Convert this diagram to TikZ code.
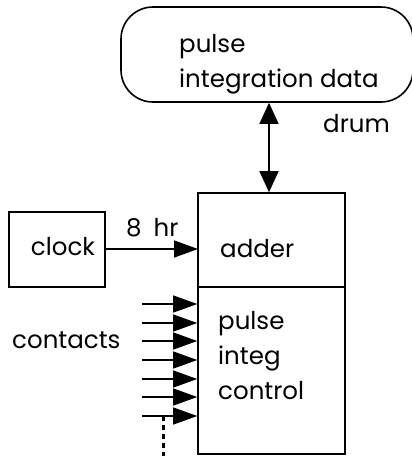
\documentclass[tikz,border=0pt]{standalone}
\usepackage{fontspec}
\setmainfont{Poppins}
\usetikzlibrary{arrows.meta,positioning}

\begin{document}
\begin{tikzpicture}[
  x=1pt, y=-1pt,
  box/.style={rectangle, draw, line width=1.6pt, inner sep=0pt},
  txt/.style={font=\fontsize{24.5}{35}\selectfont, inner sep=0pt, align=left},
  arr/.style={-{Triangle[length=24pt, width=17pt]}, line width=1.4pt},
  darr/.style={{Triangle[length=21pt, width=19pt]}-{Triangle[length=21pt, width=19pt]}, line width=1.4pt},
]
  \useasboundingbox (0,0) rectangle (412,456);

  % drum store
  \node[box, rounded corners=32pt, minimum width=292pt, minimum height=95pt] (drum) at (267,54.5) {};
  \node[txt, anchor=west] (drumtxt) at (179,64) {pulse\\integration data};
  \node[txt, anchor=west] (drumlbl) at (323,124) {drum};

  % adder and control
  \node[box, minimum width=147pt, minimum height=94pt] (adder) at (271.5,240) {};
  \node[box, minimum width=147pt, minimum height=167pt] (ctrl) at (271.5,370.5) {};
  \node[txt, anchor=west] (addertxt) at (220,249) {adder};
  \node[txt, anchor=west] (ctrltxt) at (218,356) {pulse\\integ\\control};

  % clock
  \node[box, minimum width=96pt, minimum height=75pt] (clock) at (57,249.5) {};
  \node[txt] (clocktxt) at (63,247) {clock};
  \node[txt, anchor=west] (hrs) at (126,228) {8\hspace{12pt}hr};
  \coordinate (clockin) at (198,249);
  \draw[arr] (clock.east |- clockin) -- (clockin);

  \draw[darr] (drum.south -| 269,0) -- (adder.north -| 269,0);

  % contacts
  \node[txt, anchor=west] (contacts) at (12,340) {contacts};
  \foreach \y [count=\i] in {304,323,341,360,379,397,416} {
    \coordinate (c\i) at (142,\y);
    \draw[arr] (c\i) -- (c\i -| ctrl.west);
  }
  \coordinate (cend) at (163,456);
  \draw[line width=3pt, dash pattern=on 5pt off 4pt] (163,416) -- (cend);
\end{tikzpicture}
\end{document}
